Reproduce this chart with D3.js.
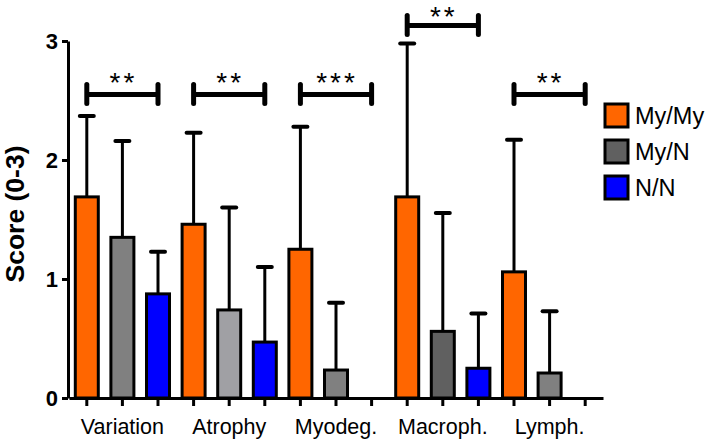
<!DOCTYPE html>
<html>
<head>
<meta charset="utf-8">
<script src="https://cdn.jsdelivr.net/npm/d3@7"></script>
<style>
  html, body { margin: 0; padding: 0; background: #fff; }
  svg { display: block; font-family: "Liberation Sans", Arial, sans-serif; }
</style>
</head>
<body>
<svg id="chart" width="709" height="440"></svg>
<script>
// ---- data ----
const categories = ["Variation", "Atrophy", "Myodeg.", "Macroph.", "Lymph."];
const seriesNames = ["My/My", "My/N", "N/N"];
const myMyMean = [1.69, 1.46, 1.25, 1.69, 1.06];
const myMyUpper = [2.37, 2.23, 2.28, 2.98, 2.17];
const myNMean = [1.35, 0.74, 0.235, 0.56, 0.21];
const myNUpper = [2.16, 1.60, 0.80, 1.555, 0.73];
const nNMean = [0.875, 0.47, 0, 0.25, 0];
const nNUpper = [1.23, 1.10, null, 0.71, null];
const significance = ["**", "**", "***", "**", "**"];
const sigLevel = [2.55, 2.55, 2.55, 3.13, 2.55];
const yTicks = [0, 1, 2, 3];

// ---- styles ----
const orange = "#ff6600", blue = "#0000ff";
const grayShades = ["#808080", "#a0a0a4", "#808080", "#606060", "#808080"];
const legendColors = [orange, "#606060", blue];

const svg = d3.select("#chart");

const y = d3.scaleLinear().domain([0, 3]).range([398, 41]);
const slots = [];
categories.forEach(c => seriesNames.forEach(s => slots.push(c + "|" + s)));
const x = d3.scaleBand().domain(slots).range([69, 603]).padding(0);

const bars = [];
categories.forEach((c, i) => {
  bars.push({cat: c, s: "My/My", v: myMyMean[i], u: myMyUpper[i], color: orange});
  bars.push({cat: c, s: "My/N", v: myNMean[i], u: myNUpper[i], color: grayShades[i]});
  bars.push({cat: c, s: "N/N", v: nNMean[i], u: nNUpper[i], color: blue});
});
const barW = 23;
const cx = d => x(d.cat + "|" + d.s) + x.bandwidth() / 2;

// error bars
const eb = bars.filter(d => d.u != null && d.v > 0);
svg.append("g").selectAll("line.err").data(eb).join("line")
  .attr("x1", cx).attr("x2", cx)
  .attr("y1", d => y(d.v)).attr("y2", d => y(d.u))
  .attr("stroke", "#000").attr("stroke-width", 3);
svg.append("g").selectAll("line.cap").data(eb).join("line")
  .attr("x1", d => cx(d) - 7).attr("x2", d => cx(d) + 7)
  .attr("y1", d => y(d.u)).attr("y2", d => y(d.u))
  .attr("stroke", "#000").attr("stroke-width", 4).attr("stroke-linecap", "round");

// bars
svg.append("g").selectAll("rect").data(bars.filter(d => d.v > 0)).join("rect")
  .attr("x", d => cx(d) - barW / 2)
  .attr("width", barW)
  .attr("y", d => y(d.v))
  .attr("height", d => y(0) - y(d.v))
  .attr("fill", d => d.color)
  .attr("stroke", "#000").attr("stroke-width", 3);

// y axis
const yAxis = svg.append("g").attr("transform", "translate(68,0)")
  .call(d3.axisLeft(y).tickValues(yTicks).tickSize(6).tickSizeOuter(0).tickFormat(d3.format("d")));
yAxis.select(".domain").attr("stroke-width", 3);
yAxis.selectAll(".tick line").attr("stroke-width", 3);
yAxis.selectAll(".tick text").attr("x", -10).attr("font-size", 22).attr("font-weight", "bold")
  .attr("font-family", "Liberation Sans, Arial, sans-serif").attr("fill", "#000");

// x axis
const xAxis = svg.append("g").attr("transform", "translate(0,398)")
  .call(d3.axisBottom(x).tickSize(8).tickSizeOuter(0)
    .tickFormat(d => d.endsWith("|My/N") ? d.split("|")[0] : ""));
xAxis.select(".domain").attr("stroke-width", 3);
xAxis.selectAll(".tick line").attr("stroke-width", 3);
xAxis.selectAll(".tick text").attr("y", 36).attr("dy", 0).attr("font-size", 21.5)
  .attr("font-family", "Liberation Sans, Arial, sans-serif").attr("fill", "#000");

// y label
svg.append("text")
  .attr("transform", "translate(24,214) rotate(-90)")
  .attr("text-anchor", "middle")
  .attr("font-size", 26.5).attr("font-weight", "bold")
  .text("Score (0-3)");

// significance brackets
const starSize = 28;
const sig = svg.append("g");
categories.forEach((c, i) => {
  const x1 = x(c + "|My/My") + x.bandwidth() / 2;
  const x2 = x(c + "|N/N") + x.bandwidth() / 2;
  const yy = y(sigLevel[i]);
  sig.append("line").attr("x1", x1).attr("x2", x2).attr("y1", yy).attr("y2", yy)
    .attr("stroke", "#000").attr("stroke-width", 5);
  [x1, x2].forEach(xx => sig.append("line").attr("x1", xx).attr("x2", xx)
    .attr("y1", yy - 10).attr("y2", yy + 9)
    .attr("stroke", "#000").attr("stroke-width", 5).attr("stroke-linecap", "round"));
  sig.append("text").attr("x", (x1 + x2) / 2 + 1)
    .attr("y", Math.max(yy - 3, starSize * 0.92))
    .attr("text-anchor", "middle").attr("font-size", starSize).attr("letter-spacing", 3)
    .text(significance[i]);
});

// legend
const lg = svg.append("g");
seriesNames.forEach((s, i) => {
  const ly = 104 + i * 36;
  lg.append("rect").attr("x", 605).attr("y", ly).attr("width", 23).attr("height", 23)
    .attr("fill", legendColors[i]).attr("stroke", "#000").attr("stroke-width", 3);
  lg.append("text").attr("x", 635).attr("y", ly + 20).attr("font-size", 23.5).text(s);
});
</script>
</body>
</html>
